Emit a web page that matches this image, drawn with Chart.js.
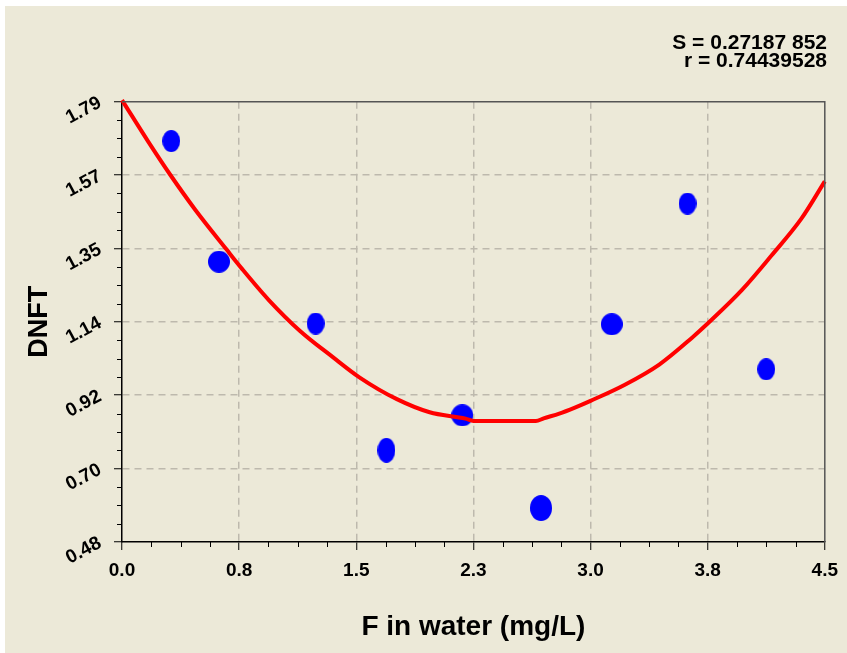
<!DOCTYPE html>
<html>
<head>
<meta charset="utf-8">
<script src="https://cdn.jsdelivr.net/npm/chart.js@4.4.1/dist/chart.umd.min.js"></script>
<style>
html,body{margin:0;padding:0;background:#ffffff;width:847px;height:653px;overflow:hidden;}
#wrap{position:absolute;left:5px;top:6px;width:842px;height:647px;background:#ECE9D8;}
canvas{display:block;}
</style>
</head>
<body>
<div id="wrap"><canvas id="c" width="842" height="647"></canvas></div>
<script>
// ---- data ----
const statLines = ['S = 0.27187 852', 'r = 0.74439528'];
const xTitle = 'F in water (mg/L)';
const yTitle = 'DNFT';
const xTickLabels = ['0.0', '0.8', '1.5', '2.3', '3.0', '3.8', '4.5'];
const yTickLabels = ['0.48', '0.70', '0.92', '1.14', '1.35', '1.57', '1.79'];
const xMin = 0, xMax = 4.5;
const yMin = 0.48, yMax = 1.79;

// observed points
const obsX = [0.315, 0.621, 1.240, 1.693, 2.179, 2.683, 3.136, 3.621, 4.125];
const obsY = [1.673, 1.314, 1.130, 0.753, 0.857, 0.581, 1.128, 1.487, 0.994];

// fitted curve
const fitX = [0.00, 0.17, 0.31, 0.47, 0.67, 0.77, 0.94, 1.14, 1.35, 1.52, 1.76, 1.97, 2.20, 2.25, 2.65, 2.70, 2.80, 2.90, 3.00, 3.22, 3.44, 3.65, 3.75, 3.97, 4.16, 4.35, 4.50];
const fitY = [1.795, 1.670, 1.572, 1.468, 1.350, 1.292, 1.200, 1.108, 1.030, 0.970, 0.905, 0.866, 0.847, 0.840, 0.840, 0.848, 0.862, 0.880, 0.900, 0.948, 1.008, 1.088, 1.130, 1.230, 1.333, 1.442, 1.553];

// marker styling (ellipse sizes in px)
const markerW = [18, 22, 18, 18, 22, 22, 22, 18, 18];
const markerH = [22, 22, 22, 25, 22, 26, 22, 22, 22];

// ---- build ----
function ellipse(w, h) {
  const cv = document.createElement('canvas');
  cv.width = w; cv.height = h;
  const g = cv.getContext('2d');
  g.fillStyle = '#0000FF';
  g.beginPath();
  g.ellipse(w / 2, h / 2, w / 2, h / 2, 0, 0, Math.PI * 2);
  g.fill();
  return cv;
}
const markers = markerW.map((w, i) => ellipse(w, markerH[i]));

const FONT = "'Liberation Sans', Arial, sans-serif";
const gridColor = '#bdb9ad';

function evenTicks(scale, labels, lo, hi) {
  const n = labels.length;
  scale.ticks = labels.map((l, i) => ({ value: lo + i * (hi - lo) / (n - 1) }));
}

const minorTicks = {
  id: 'minorTicks',
  afterDraw(chart) {
    const ctx = chart.ctx, a = chart.chartArea;
    const xs = chart.scales.x, ys = chart.scales.y;
    ctx.save();
    ctx.strokeStyle = '#000';
    ctx.lineWidth = 1;
    const xn = xTickLabels.length - 1, xStep = (xMax - xMin) / xn;
    for (let i = 0; i < xn; i++) {
      for (let k = 1; k < 4; k++) {
        const p = Math.round(xs.getPixelForValue(xMin + i * xStep + k * xStep / 4)) + 0.5;
        ctx.beginPath(); ctx.moveTo(p, a.bottom); ctx.lineTo(p, a.bottom + 5); ctx.stroke();
      }
    }
    const yn = yTickLabels.length - 1, yStep = (yMax - yMin) / yn;
    for (let i = 0; i < yn; i++) {
      for (let k = 1; k < 4; k++) {
        const p = Math.round(ys.getPixelForValue(yMin + i * yStep + k * yStep / 4)) + 0.5;
        ctx.beginPath(); ctx.moveTo(a.left - 5, p); ctx.lineTo(a.left, p); ctx.stroke();
      }
    }
    // frame top/right
    ctx.strokeStyle = '#555555';
    ctx.lineWidth = 1.5;
    ctx.beginPath();
    ctx.moveTo(a.left, a.top); ctx.lineTo(a.right, a.top); ctx.lineTo(a.right, a.bottom);
    ctx.stroke();
    ctx.restore();
  }
};

new Chart(document.getElementById('c'), {
  type: 'scatter',
  data: {
    datasets: [
      {
        label: 'fit',
        data: fitX.map((x, i) => ({ x: x, y: fitY[i] })),
        showLine: true,
        borderColor: '#FF0000',
        borderWidth: 4,
        pointRadius: 0,
        cubicInterpolationMode: 'monotone',
        clip: false
      },
      {
        label: 'observed',
        data: obsX.map((x, i) => ({ x: x, y: obsY[i] })),
        pointStyle: (c) => markers[c.dataIndex],
        pointRadius: 11,
        backgroundColor: '#0000FF',
        borderColor: '#0000FF'
      }
    ]
  },
  options: {
    responsive: false,
    devicePixelRatio: 1,
    animation: false,
    events: [],
    layout: { padding: { top: 0, right: 20, bottom: 0, left: 0 } },
    plugins: {
      legend: { display: false },
      tooltip: { enabled: false },
      title: {
        display: true,
        text: statLines,
        align: 'end',
        color: '#000',
        font: { family: FONT, size: 21, weight: 'bold', lineHeight: 0.82 },
        padding: { top: 29, bottom: 32.3 }
      }
    },
    scales: {
      x: {
        type: 'linear',
        min: xMin, max: xMax,
        afterBuildTicks: (s) => evenTicks(s, xTickLabels, xMin, xMax),
        afterFit: (s) => { s.height = 111; },
        ticks: {
          autoSkip: false,
          maxRotation: 0, minRotation: 0,
          padding: 9,
          color: '#000',
          font: { family: FONT, size: 19, weight: 'bold' },
          callback: (v, i) => xTickLabels[i]
        },
        grid: {
          color: (c) => (c.index === 0 || c.index === xTickLabels.length - 1) ? 'rgba(0,0,0,0)' : gridColor,
          lineWidth: 1.5,
          tickLength: 8,
          tickColor: '#000',
          tickWidth: 1
        },
        border: { display: true, color: '#000', width: 1.5, dash: [7, 5] },
        title: {
          display: true,
          text: xTitle,
          color: '#000',
          font: { family: FONT, size: 28, weight: 'bold' },
          padding: { top: 0, bottom: 9.2 }
        }
      },
      y: {
        type: 'linear',
        min: yMin, max: yMax,
        afterBuildTicks: (s) => evenTicks(s, yTickLabels, yMin, yMax),
        afterFit: (s) => { s.width = 117; },
        ticks: {
          autoSkip: false,
          minRotation: 28, maxRotation: 28,
          padding: 14,
          color: '#000',
          font: { family: FONT, size: 19, weight: 'bold' },
          callback: (v, i) => yTickLabels[i]
        },
        grid: {
          color: (c) => (c.index === 0 || c.index === yTickLabels.length - 1) ? 'rgba(0,0,0,0)' : gridColor,
          lineWidth: 1.5,
          tickLength: 8,
          tickColor: '#000',
          tickWidth: 1
        },
        border: { display: true, color: '#000', width: 1.5, dash: [7, 5] },
        title: {
          display: true,
          text: yTitle,
          color: '#000',
          font: { family: FONT, size: 27, weight: 'bold' },
          padding: { top: 18, bottom: 0 }
        }
      }
    }
  },
  plugins: [minorTicks]
});
</script>
</body>
</html>
